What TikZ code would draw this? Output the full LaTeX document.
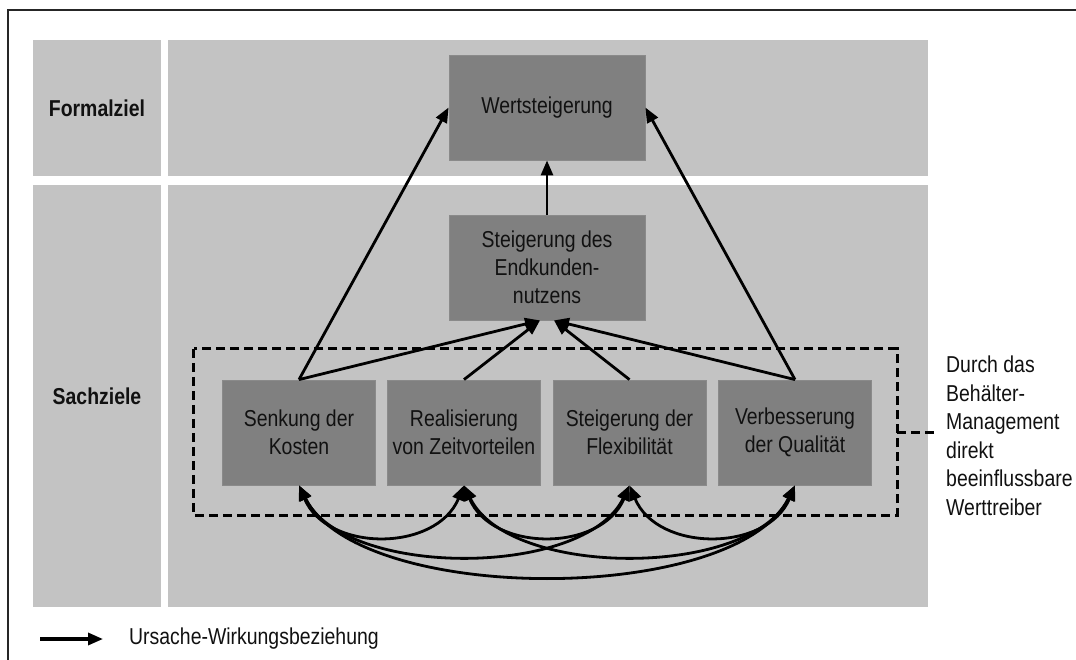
\documentclass[tikz,border=0pt]{standalone}
\usepackage{fontspec}
\setmainfont{Liberation Sans}[FakeStretch=0.845]
\usetikzlibrary{arrows.meta}
\definecolor{panelgray}{HTML}{C3C3C3}
\definecolor{boxgray}{HTML}{808080}
\definecolor{boxedge}{HTML}{8A8A8A}
\definecolor{textc}{HTML}{111111}
\begin{document}
\begin{tikzpicture}[x=1pt,y=-1pt,
  font=\fontsize{23}{28}\selectfont,
  panel/.style={fill=panelgray, draw=none, inner sep=0pt, text=textc},
  goal/.style={fill=boxgray, draw=boxedge, line width=0.8pt, inner sep=0pt, align=center, text=textc},
  tip/.tip={Triangle[length=15pt,width=12pt]},
  arr/.style={line width=2.8pt, -tip},
  dbl/.style={line width=2.8pt, tip-tip},
  dashline/.style={draw=black, line width=3pt, dash pattern=on 9pt off 5pt},
  lbl/.style={inner sep=0pt, text=textc}]
\useasboundingbox (0,0) rectangle (1076,660);
\fill[white] (0,0) rectangle (1076,660);
% outer frame
\draw[line width=1.8pt, black!85] (8,10) rectangle (1090,690);
% panels
\node[panel, minimum width=128pt, minimum height=136pt] (pF) at (97,108) {\bfseries Formalziel};
\node[panel, minimum width=760pt, minimum height=136pt] (pFr) at (548,108) {};
\node[panel, minimum width=128pt, minimum height=422pt] (pS) at (97,396) {\bfseries Sachziele};
\node[panel, minimum width=760pt, minimum height=422pt] (pSr) at (548,396) {};
% group box
\node[inner sep=0pt, minimum width=703pt, minimum height=166pt] (grp) at (545.5,432) {};
\draw[dashline] (grp.north west) rectangle (grp.south east);
% goal boxes
\node[goal, minimum width=196pt, minimum height=105pt] (W) at (547,107.5) {Wertsteigerung};
\node[goal, minimum width=196pt, minimum height=105pt] (E) at (547,267.5) {Steigerung des\\Endkunden-\\nutzens};
\node[goal, minimum width=153pt, minimum height=105pt] (b1) at (299,432.5) {Senkung der\\Kosten};
\node[goal, minimum width=153pt, minimum height=105pt] (b2) at (464,432.5) {Realisierung\\von Zeitvorteilen};
\node[goal, minimum width=153pt, minimum height=105pt] (b3) at (629.5,432.5) {Steigerung der\\Flexibilität};
\node[goal, minimum width=153pt, minimum height=105pt] (b4) at (795,432.5) {Verbesserung\\der Qualität};
% arrows upward
\draw[arr] (E.north) -- (W.south);
\draw[arr] (b1.north) -- (W.west);
\draw[arr] (b4.north) -- (W.east);
\draw[arr] (b1.north) -- ([xshift=-7pt]E.south);
\draw[arr] (b2.north) -- ([xshift=-7pt]E.south);
\draw[arr] (b3.north) -- ([xshift=7pt]E.south);
\draw[arr] (b4.north) -- ([xshift=7pt]E.south);
% mutual relations
\draw[dbl] (b1.south) .. controls +(28,67) and +(-28,67) .. (b2.south);
\draw[dbl] (b2.south) .. controls +(28,67) and +(-28,67) .. (b3.south);
\draw[dbl] (b3.south) .. controls +(28,67) and +(-28,67) .. (b4.south);
\draw[dbl] (b1.south) .. controls +(45,93) and +(-45,93) .. (b3.south);
\draw[dbl] (b2.south) .. controls +(45,93) and +(-45,93) .. (b4.south);
\draw[dbl] (b1.south) .. controls +(60,120) and +(-60,120) .. (b4.south);
% side label
\coordinate (ce) at (935,432);
\draw[dashline] (grp.east) -- (ce);
\node[lbl, anchor=west, align=left, font=\fontsize{23}{28.5}\selectfont] (side) at (946,436)
  {Durch das\\Behälter-\\Management\\direkt\\beeinflussbare\\Werttreiber};
% legend
\coordinate (la) at (40,639);
\coordinate (lb) at (103,639);
\draw[arr, line width=3.2pt] (la) -- (lb);
\node[lbl, anchor=west] (lt) at (129,639) {Ursache-Wirkungsbeziehung};
\end{tikzpicture}
\end{document}
